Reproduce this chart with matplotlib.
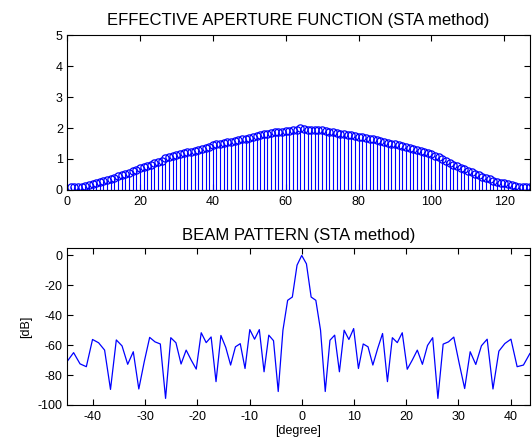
import numpy as np
import matplotlib.pyplot as plt

plt.rcParams['font.family'] = ['Liberation Sans', 'DejaVu Sans']
plt.rcParams['axes.unicode_minus'] = False

# effective aperture (stem plot), element index 1..127
element = np.arange(1, 128)
aperture = [0.10, 0.10, 0.10, 0.10, 0.12, 0.15, 0.18, 0.22, 0.26, 0.30,
            0.33, 0.36, 0.40, 0.44, 0.48, 0.52, 0.56, 0.61, 0.65, 0.70,
            0.74, 0.78, 0.82, 0.86, 0.90, 0.95, 1.02, 1.07, 1.10, 1.12,
            1.15, 1.18, 1.21, 1.24, 1.27, 1.30, 1.33, 1.35, 1.40, 1.46,
            1.47, 1.50, 1.52, 1.54, 1.56, 1.58, 1.61, 1.63, 1.66, 1.69,
            1.72, 1.75, 1.78, 1.80, 1.82, 1.84, 1.86, 1.87, 1.88, 1.89,
            1.90, 1.92, 1.95, 2.00, 1.96, 1.95, 1.95, 1.94, 1.93, 1.92,
            1.90, 1.88, 1.86, 1.84, 1.82, 1.80, 1.78, 1.76, 1.74, 1.72,
            1.70, 1.68, 1.66, 1.64, 1.62, 1.59, 1.56, 1.53, 1.50, 1.47,
            1.44, 1.41, 1.38, 1.35, 1.32, 1.29, 1.26, 1.23, 1.20, 1.16,
            1.11, 1.05, 0.99, 0.93, 0.87, 0.82, 0.77, 0.72, 0.67, 0.62,
            0.57, 0.52, 0.47, 0.42, 0.38, 0.34, 0.30, 0.27, 0.24, 0.21,
            0.18, 0.15, 0.12, 0.10, 0.10, 0.10, 0.10]

# beam pattern, sampled uniformly in sin(theta)
sin_step = 0.0157
k = np.arange(-45, 45)
angle_deg = np.degrees(np.arcsin(k * sin_step))
beam_db = [-71.0, -65.0, -72.5, -74.4, -56.2, -58.4, -63.3, -89.6, -56.5, -60.5,
           -72.8, -64.4, -89.3, -71.0, -54.8, -57.8, -59.2, -95.6, -55.0, -58.4,
           -72.6, -63.3, -70.0, -76.0, -51.7, -58.3, -54.5, -84.4, -53.5, -61.5,
           -73.3, -61.1, -59.0, -75.6, -49.6, -56.0, -49.6, -77.8, -53.3, -57.0,
           -91.0, -50.0, -30.0, -27.8, -6.5, 0.0,
           -5.6, -27.8, -30.0, -50.0, -91.0, -56.7, -53.3, -77.8, -50.0, -56.2,
           -48.9, -75.6, -59.2, -61.1, -73.3, -62.2, -52.2, -84.4, -55.0, -58.3,
           -51.7, -76.1, -70.0, -63.3, -72.8, -60.2, -55.0, -95.6, -59.3, -57.8,
           -54.6, -72.2, -89.0, -64.4, -72.9, -60.4, -56.0, -89.3, -64.0, -58.9,
           -56.0, -74.4, -73.3, -65.6]

fig = plt.figure(figsize=(5.32, 4.46), dpi=100)

ax1 = fig.add_axes([0.126, 0.574, 0.870, 0.3475])
ml, sl, bl = ax1.stem(element, aperture, linefmt='b-', markerfmt='bo', basefmt='b-')
plt.setp(sl, linewidth=0.8)
plt.setp(ml, markersize=5.2, markerfacecolor='none', markeredgewidth=0.9)
plt.setp(bl, linewidth=0.8)
ax1.set_xlim(0, 127)
ax1.set_ylim(0, 5)
ax1.set_xticks(range(0, 121, 20))
ax1.set_yticks(range(0, 6))
ax1.set_title('EFFECTIVE APERTURE FUNCTION (STA method)', fontsize=12, pad=7)

ax2 = fig.add_axes([0.126, 0.092, 0.870, 0.352])
ax2.plot(angle_deg, beam_db, color='b', linewidth=0.9)
ax2.set_xlim(angle_deg[0], angle_deg[-1])
ax2.set_ylim(-100, 5)
ax2.set_xticks(range(-40, 41, 10))
ax2.set_yticks(range(-100, 1, 20))
ax2.set_title('BEAM PATTERN (STA method)', fontsize=12, pad=6)
ax2.set_xlabel('[degree]', fontsize=9, labelpad=2)
ax2.set_ylabel('[dB]', fontsize=9, labelpad=4)

for ax in (ax1, ax2):
    ax.tick_params(direction='in', top=True, right=True, length=4, width=0.8,
                   labelsize=9, pad=3)
    ax.tick_params(axis='x', pad=4)
    for s in ax.spines.values():
        s.set_linewidth(0.8)

fig.savefig('out.png', dpi=100)
